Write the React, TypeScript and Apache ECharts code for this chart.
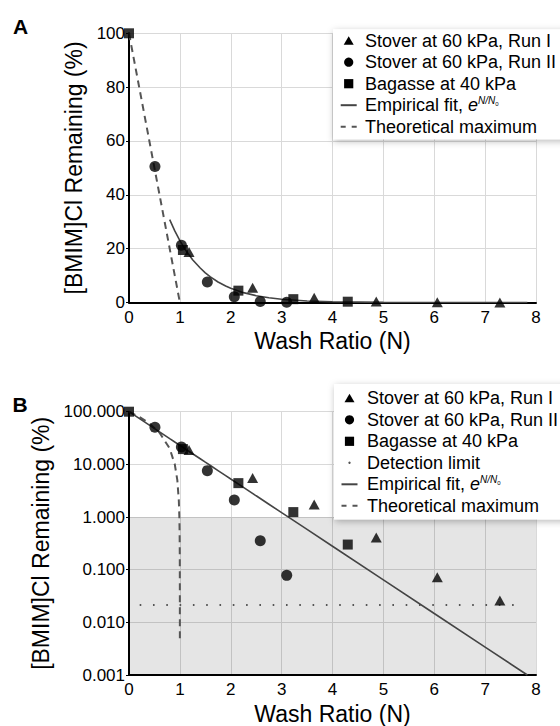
import React, { useEffect, useRef } from 'react';
import * as echarts from 'echarts';

// ---- data ----
const runI_N = [1.18, 2.43, 3.64, 4.86, 6.06, 7.29];
const runI_Y = [18.8, 5.5, 1.73, 0.41, 0.072, 0.026];
const runII_N = [0.51, 1.03, 1.54, 2.07, 2.58, 3.1];
const runII_Y = [50.5, 21.3, 7.6, 2.1, 0.356, 0.078];
const bagasse_N = [0, 1.06, 2.15, 3.23, 4.3];
const bagasse_Y = [100, 19.5, 4.4, 1.24, 0.3];
// empirical fit curve
const fit_N = [0, 0.8, 0.9, 1, 1.1, 1.25, 1.4, 1.5, 1.6, 1.75, 1.9, 2, 2.25, 2.5, 2.75, 3, 3.5, 4, 5, 6, 7, 7.83];
const fit_Y = [100, 30.8, 26.6, 23.0, 19.8, 15.9, 12.8, 11.0, 9.51, 7.63, 6.12, 5.28, 3.66, 2.53, 1.75, 1.21, 0.581, 0.279, 0.0641, 0.0147, 0.00338, 0.001];
const fitStartA = 0.8; // in panel A the fit is drawn from here on
// theoretical maximum curve
const theo_N = [0, 0.2, 0.4, 0.6, 0.8, 0.9, 0.95, 0.98, 0.99, 0.995, 0.998, 0.999, 0.9995, 0.9999, 0.99995];
const theo_Y = [100, 80, 60, 40, 20, 10, 5, 2, 1, 0.5, 0.2, 0.1, 0.05, 0.01, 0.005];
const detection_N = [0.21, 7.76];
const detectionLevel = 0.0213;
const shadedRange = [0.001, 1];

const xRange = [0, 8];
const xStep = 1;
const yLinRange = [0, 100];
const yLinStep = 20;
const yLogRange = [0.001, 100];

const NAME_I = 'Stover at 60 kPa, Run I';
const NAME_II = 'Stover at 60 kPa, Run II';
const NAME_B = 'Bagasse at 40 kPa';
const NAME_D = 'Detection limit';
const NAME_F = 'Empirical fit, ';
const NAME_T = 'Theoretical maximum';
const legendA = [['tri', NAME_I], ['circ', NAME_II], ['sq', NAME_B], ['line', NAME_F], ['dash', NAME_T]];
const legendB = [['tri', NAME_I], ['circ', NAME_II], ['sq', NAME_B], ['dot', NAME_D], ['line', NAME_F], ['dash', NAME_T]];

const FONT = "'Liberation Sans', Arial, Helvetica, sans-serif";
const ZL = 100;

const zip = (xs: number[], ys: number[]) => xs.map((x, i) => [x, ys[i]]);

function makeLegend(items: string[][], box: { x: number; y: number; h: number }, iconX: number, textX: number, row0: number, rowStep: number) {
  const children: any[] = [
    {
      type: 'rect',
      z: ZL,
      shape: { x: box.x, y: box.y, width: 260, height: box.h },
      style: { fill: '#ffffff', shadowBlur: 7, shadowColor: 'rgba(0,0,0,0.28)', shadowOffsetX: 1, shadowOffsetY: 2 },
    },
  ];
  items.forEach(([kind, label], i) => {
    const cy = row0 + i * rowStep;
    if (kind === 'tri') {
      children.push({ type: 'polygon', z: ZL + 1, shape: { points: [[iconX, cy - 4.5], [iconX + 5, cy + 4], [iconX - 5, cy + 4]] }, style: { fill: '#000' } });
    } else if (kind === 'circ') {
      children.push({ type: 'circle', z: ZL + 1, shape: { cx: iconX, cy, r: 4.6 }, style: { fill: '#000' } });
    } else if (kind === 'sq') {
      children.push({ type: 'rect', z: ZL + 1, shape: { x: iconX - 4.6, y: cy - 4.6, width: 9.2, height: 9.2 }, style: { fill: '#000' } });
    } else if (kind === 'dot') {
      children.push({ type: 'circle', z: ZL + 1, shape: { cx: iconX, cy, r: 1.2 }, style: { fill: '#555' } });
    } else if (kind === 'line') {
      children.push({ type: 'line', z: ZL + 1, shape: { x1: iconX - 8, y1: cy, x2: iconX + 8, y2: cy }, style: { stroke: '#444', lineWidth: 2 } });
    } else if (kind === 'dash') {
      children.push({ type: 'line', z: ZL + 1, shape: { x1: iconX - 8, y1: cy, x2: iconX + 8, y2: cy }, style: { stroke: '#555', lineWidth: 2, lineDash: [5, 6] } });
    }
    if (label === NAME_F) {
      children.push({
        type: 'text',
        z: ZL + 1,
        x: textX,
        y: cy,
        style: {
          text: '{a|' + label + '}{e|e}{s|N/N}{z|0}',
          fill: '#000',
          align: 'left',
          verticalAlign: 'middle',
          fontFamily: FONT,
          fontSize: 18,
          rich: {
            a: { fontSize: 18, lineHeight: 20, fontFamily: FONT },
            e: { fontSize: 18, lineHeight: 20, fontStyle: 'italic', fontFamily: FONT },
            s: { fontSize: 10, lineHeight: 10, verticalAlign: 'top', fontStyle: 'italic', fontFamily: FONT },
            z: { fontSize: 6, lineHeight: 6, verticalAlign: 'top', padding: [6, 0, 0, 0], fontFamily: FONT },
          },
        },
      });
    } else {
      children.push({
        type: 'text',
        z: ZL + 1,
        x: textX,
        y: cy,
        style: { text: label, fill: '#000', align: 'left', verticalAlign: 'middle', fontFamily: FONT, fontSize: 18 },
      });
    }
  });
  return { type: 'group', z: ZL, children };
}

export default function App() {
  const ref = useRef<HTMLDivElement>(null);
  useEffect(() => {
    document.body.style.margin = '0';
    if (!ref.current) return;
    const chart = echarts.init(ref.current, undefined, { renderer: 'svg' });

    const axisLine = { show: true, onZero: false, lineStyle: { color: '#000', width: 2 } };
    const splitLine = { show: true, lineStyle: { color: '#d9d9d9', width: 1 } };
    const axisLabel = { fontSize: 17, color: '#000', fontFamily: FONT };
    const nameStyle = { fontSize: 23, color: '#000', fontFamily: FONT };

    const xAxis = [0, 1].map((g) => ({
      type: 'value',
      gridIndex: g,
      min: xRange[0],
      max: xRange[1],
      interval: xStep,
      axisLine,
      axisTick: { show: false },
      splitLine,
      axisLabel: { ...axisLabel, margin: 6 },
      name: 'Wash Ratio (N)',
      nameLocation: 'middle',
      nameGap: 27,
      nameTextStyle: nameStyle,
    }));

    const yAxis = [
      {
        type: 'value',
        gridIndex: 0,
        min: yLinRange[0],
        max: yLinRange[1],
        interval: yLinStep,
        axisLine,
        axisTick: { show: true, length: 3, lineStyle: { color: '#000' } },
        splitLine,
        axisLabel: { ...axisLabel, margin: 4 },
        name: '[BMIM]Cl Remaining (%)',
        nameLocation: 'middle',
        nameGap: 40,
        nameRotate: 90,
        nameTextStyle: nameStyle,
      },
      {
        type: 'log',
        logBase: 10,
        gridIndex: 1,
        min: yLogRange[0],
        max: yLogRange[1],
        axisLine,
        axisTick: { show: true, length: 3, lineStyle: { color: '#000' } },
        splitLine,
        minorTick: { show: false },
        axisLabel: { ...axisLabel, margin: 4, formatter: (v: number) => Number(v).toFixed(3) },
        name: '[BMIM]Cl Remaining (%)',
        nameLocation: 'middle',
        nameGap: 74,
        nameRotate: 90,
        nameTextStyle: nameStyle,
      },
    ];

    const scatterSeries = (g: number) => [
      { name: NAME_I, type: 'scatter', xAxisIndex: g, yAxisIndex: g, symbol: 'triangle', symbolSize: [11, 10], itemStyle: { color: '#000' }, z: 5, data: zip(runI_N, runI_Y) },
      { name: NAME_II, type: 'scatter', xAxisIndex: g, yAxisIndex: g, symbol: 'circle', symbolSize: 11, itemStyle: { color: '#000' }, z: 5, data: zip(runII_N, runII_Y) },
      { name: NAME_B, type: 'scatter', xAxisIndex: g, yAxisIndex: g, symbol: 'rect', symbolSize: 10, itemStyle: { color: '#000' }, z: 5, data: zip(bagasse_N, bagasse_Y) },
    ];

    const fitA = zip(fit_N, fit_Y).filter((p) => p[0] >= fitStartA);

    const series: any[] = [
      {
        name: 'shade',
        type: 'line',
        xAxisIndex: 1,
        yAxisIndex: 1,
        data: [],
        z: -1,
        silent: true,
        markArea: {
          silent: true,
          itemStyle: { color: 'rgba(0,0,0,0.1)' },
          data: [[{ xAxis: xRange[0], yAxis: shadedRange[0] }, { xAxis: xRange[1], yAxis: shadedRange[1] }]],
        },
      },
      { name: NAME_T, type: 'line', xAxisIndex: 0, yAxisIndex: 0, symbol: 'none', z: 3, lineStyle: { color: '#555', width: 2, type: [7, 5] }, data: zip(theo_N, theo_Y) },
      { name: NAME_F, type: 'line', xAxisIndex: 0, yAxisIndex: 0, symbol: 'none', z: 3, lineStyle: { color: '#444', width: 1.6 }, data: fitA },
      ...scatterSeries(0),
      { name: NAME_D, type: 'line', xAxisIndex: 1, yAxisIndex: 1, symbol: 'none', z: 3, lineStyle: { color: '#555', width: 2, type: [1.6, 11.7] }, data: detection_N.map((n) => [n, detectionLevel]) },
      { name: NAME_T, type: 'line', xAxisIndex: 1, yAxisIndex: 1, symbol: 'none', z: 3, lineStyle: { color: '#555', width: 2, type: [7, 5] }, data: zip(theo_N, theo_Y) },
      { name: NAME_F, type: 'line', xAxisIndex: 1, yAxisIndex: 1, symbol: 'none', z: 3, lineStyle: { color: '#444', width: 1.6 }, data: zip(fit_N, fit_Y) },
      ...scatterSeries(1),
    ];

    chart.setOption({
      animation: false,
      textStyle: { fontFamily: FONT },
      grid: [
        { left: 129, right: 24, top: 33.3, height: 269.2 },
        { left: 129, right: 24, top: 411.7, height: 270 },
      ],
      xAxis,
      yAxis,
      series,
      graphic: [
        { type: 'text', z: ZL, x: 13, y: 26, style: { text: 'A', fill: '#000', fontSize: 21, fontWeight: 'bold', fontFamily: FONT, verticalAlign: 'middle', align: 'left' } },
        { type: 'text', z: ZL, x: 12.5, y: 404.5, style: { text: 'B', fill: '#000', fontSize: 21, fontWeight: 'bold', fontFamily: FONT, verticalAlign: 'middle', align: 'left' } },
        makeLegend(legendA, { x: 333, y: 29.3, h: 110 }, 348.7, 365, 40.7, 21.5),
        makeLegend(legendB, { x: 334, y: 384, h: 135.5 }, 349.5, 367, 398.3, 21.5),
      ],
    });
    return () => chart.dispose();
  }, []);
  return <div ref={ref} style={{ width: 560, height: 726 }} />;
}
